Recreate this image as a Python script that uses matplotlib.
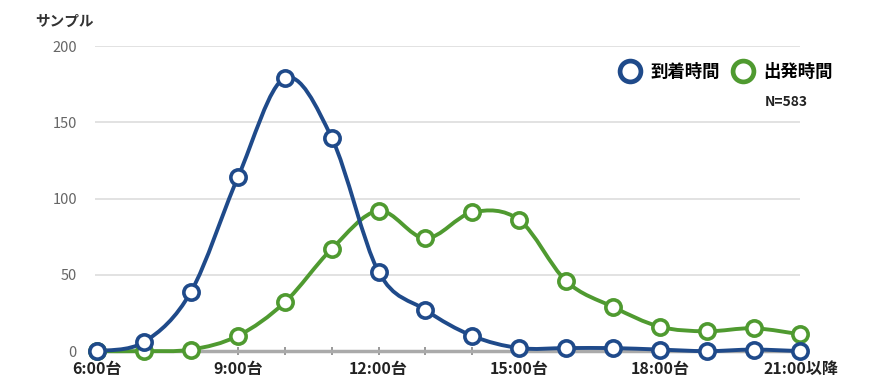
import numpy as np
import matplotlib.pyplot as plt
from matplotlib.path import Path
from matplotlib.patches import PathPatch

plt.rcParams['font.family'] = ['Noto Sans CJK JP', 'DejaVu Sans']

# Hourly counts from 6:00 to 21:00+
hours = list(range(6, 22))
arrival = [0, 6, 39, 114, 179, 140, 52, 27, 10, 2, 2, 2, 1, 0, 1, 0]
departure = [0, 0, 1, 10, 32, 67, 92, 74, 91, 86, 46, 29, 16, 13, 15, 11]
tick_labels = ["6:00台", "9:00台", "12:00台", "15:00台", "18:00台", "21:00以降"]

BLUE = "#1f4a8a"
GREEN = "#4f9a30"


def smooth_path(x, y):
    # Catmull-Rom style cubic Bezier through every point
    pts = np.column_stack([x, y]).astype(float)
    verts = [pts[0]]
    codes = [Path.MOVETO]
    n = len(pts)
    for i in range(n - 1):
        p0 = pts[max(i - 1, 0)]
        p1 = pts[i]
        p2 = pts[i + 1]
        p3 = pts[min(i + 2, n - 1)]
        c1 = p1 + (p2 - p0) / 6.0
        c2 = p2 - (p3 - p1) / 6.0
        verts += [c1, c2, p2]
        codes += [Path.CURVE4] * 3
    return Path(verts, codes)


fig = plt.figure(figsize=(8.71, 3.91), dpi=100)
ax = fig.add_axes([0.109, 0.102, 0.810, 0.780])

x = np.arange(len(hours))
for vals, color, label in [(departure, GREEN, "出発時間"), (arrival, BLUE, "到着時間")]:
    ax.add_patch(PathPatch(smooth_path(x, vals), facecolor="none", edgecolor=color,
                           lw=2.8, clip_on=False, zorder=3))
    ax.plot(x, vals, linestyle="none", marker="o", markersize=11,
            markerfacecolor="white", markeredgecolor=color, markeredgewidth=2.6,
            clip_on=False, zorder=4, label=label)

ax.set_xlim(-0.05, 15.0)
ax.set_ylim(0, 200)
ax.set_yticks([0, 50, 100, 150, 200])
ax.yaxis.grid(True, color="#dddddd", lw=1.2)
ax.set_axisbelow(True)
ax.tick_params(axis="y", length=0, labelsize=10.5, labelcolor="#666666", pad=13)

ax.set_xticks(x[::3])
ax.set_xticklabels(tick_labels, fontsize=11.5, fontweight="bold", color="#222222")
ax.set_xticks(x, minor=True)
ax.tick_params(axis="x", which="both", direction="inout", length=6, width=1.2,
               color="#888888", pad=4)

for side in ["left", "right", "top"]:
    ax.spines[side].set_visible(False)
ax.spines["bottom"].set_color("#aaaaaa")
ax.spines["bottom"].set_linewidth(2.5)

fig.text(0.040, 0.935, "サンプル", fontsize=10.5, fontweight="bold", color="#333333")

handles, labels = ax.get_legend_handles_labels()
leg = ax.legend(handles[::-1], labels[::-1], loc="center left",
                bbox_to_anchor=(0.735, 0.915), ncol=2, frameon=False,
                handletextpad=0.6, columnspacing=0.8, handlelength=1.1,
                borderaxespad=0, prop={"weight": "bold", "size": 12.5})
for h in leg.legend_handles:
    h.set_markersize(15)
    h.set_markeredgewidth(3.4)
fig.text(0.878, 0.728, "N=583", fontsize=10, fontweight="bold", color="#222222")

fig.savefig("out.png", dpi=100)
